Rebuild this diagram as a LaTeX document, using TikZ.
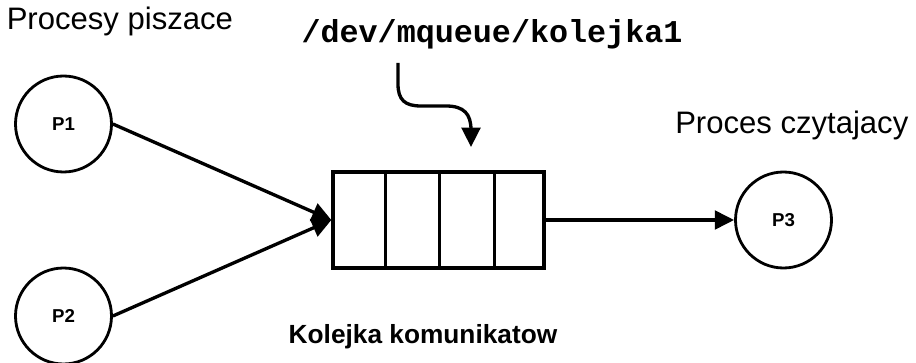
\documentclass[tikz,border=0pt]{standalone}
\usepackage{fontspec}
\setmainfont{Liberation Sans}
\newfontfamily\codefont{Liberation Mono}
\usetikzlibrary{arrows.meta}
\begin{document}
\begin{tikzpicture}[x=0.75pt,y=-0.75pt,
  line join=miter,
  proc/.style={circle,draw,line width=2.1pt,minimum size=72pt,inner sep=0pt,
    font=\fontsize{14}{16}\selectfont\bfseries},
  link/.style={line width=2.5pt,-{Triangle[length=14.5pt 0 0,width=14pt 0 0]}},
  caption/.style={inner sep=0pt,font=\fontsize{23.3}{28}\selectfont}]
  \useasboundingbox (0,0) rectangle (916,363);

  % processes
  \node[proc] (p1) at (63.5,124) {P1};
  \node[proc] (p2) at (63.5,316) {P2};
  \node[proc] (p3) at (783.5,220) {P3};

  % message queue with four slots
  \node[draw,line width=2.5pt,minimum width=158.25pt,minimum height=72pt,
    inner sep=0pt] (q) at (438.5,220) {};
  \foreach \dx in {54,108,163}
    \draw[line width=2.5pt] (q.north west) ++(\dx,0) -- ++(0,96);

  % connectors
  \draw[link] (p1.east) -- (q.west);
  \draw[link] (p2.east) -- (q.west);
  \draw[link] (q.east) -- (p3.west);

  % labels
  \node[caption,anchor=base west] (tw) at (6.5,30) {Procesy piszace};
  \node[caption,anchor=base west] (tr) at (675,134) {Proces czytajacy};
  \node[inner sep=0pt,anchor=base,font=\codefont\bfseries\fontsize{23.8}{28}\selectfont]
    (path) at (492,43) {/dev/mqueue/kolejka1};
  \node[inner sep=0pt,anchor=base,font=\fontsize{19.7}{24}\selectfont\bfseries]
    (ql) at (423,343) {Kolejka komunikatow};

  % name pointing at the queue
  \coordinate (src) at (398,63);
  \coordinate (dst) at (471,147);
  \draw[link] (src) -- (398,84) .. controls (398,100) and (405,106) .. (421,106)
    -- (446,106) .. controls (464,106) and (471,114) .. (471,130) -- (dst);
\end{tikzpicture}
\end{document}
